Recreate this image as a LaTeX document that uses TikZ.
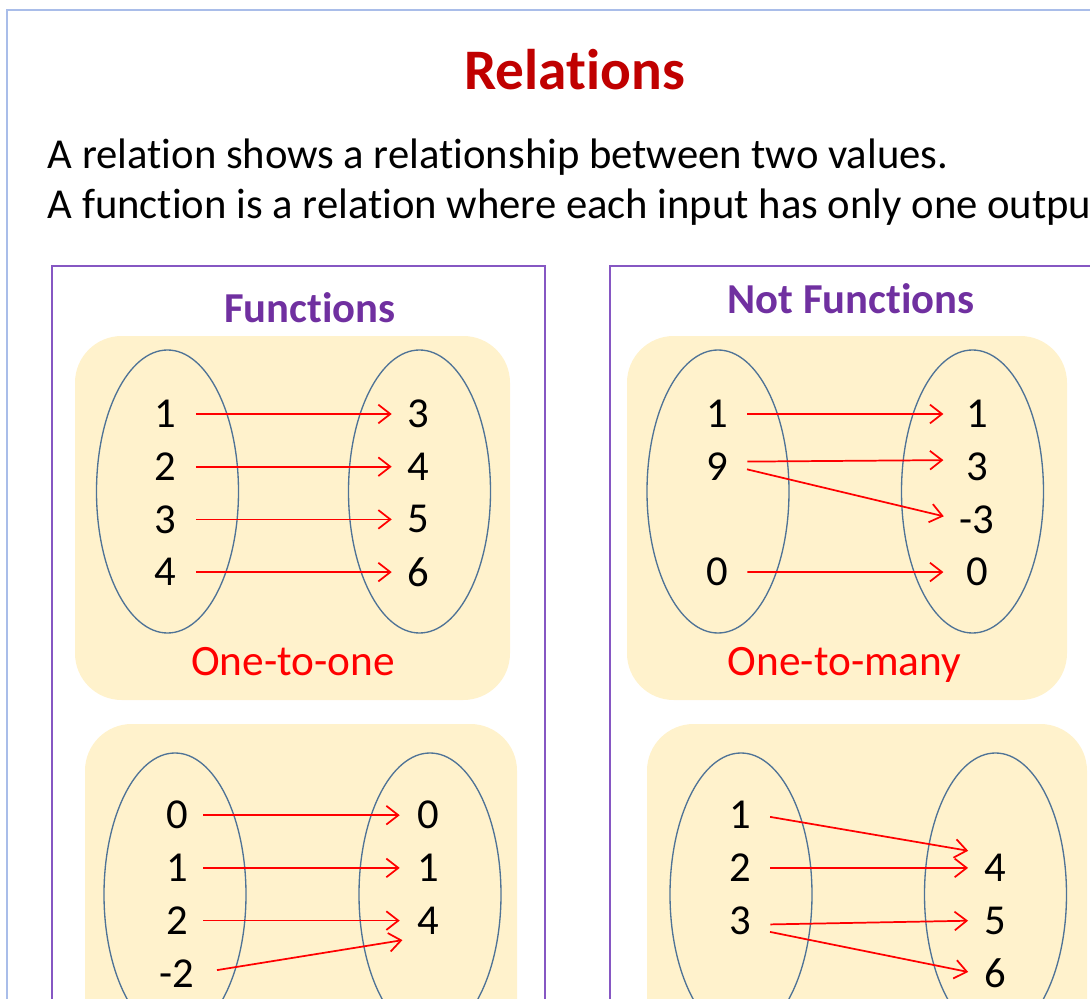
\documentclass[tikz,border=0pt]{standalone}
\usepackage{fontspec}
\setmainfont{Carlito}[Ligatures=NoCommon]
\usetikzlibrary{arrows.meta}
\definecolor{Tc}{HTML}{C00000}
\definecolor{Hc}{HTML}{7030A0}
\definecolor{Pc}{HTML}{8657C3}
\definecolor{Bc}{HTML}{A9BDE9}
\definecolor{Yc}{HTML}{FFF2CC}
\definecolor{Ec}{HTML}{4F7396}
\definecolor{Ac}{HTML}{FF0000}
\tikzset{
  num/.style={font=\fontsize{32}{32}\selectfont, inner sep=0pt, minimum width=30pt, minimum height=30pt},
  head/.style={font=\fontsize{32}{32}\selectfont\bfseries, text=Hc, anchor=base},
  kind/.style={font=\fontsize{32.5}{33}\selectfont, text=Ac, anchor=base},
  body/.style={font=\fontsize{32}{34}\selectfont, anchor=base west},
  frame/.style={draw=Pc, line width=1.5pt},
  panel/.style={fill=Yc, rounded corners=35pt},
  set/.style={draw=Ec, line width=1pt},
  map/.style={-{Straight Barb[length=9pt, width=14pt]}, draw=Ac, line width=1.3pt},
}

\begin{document}
\begin{tikzpicture}[x=0.75pt, y=-0.75pt]
  \useasboundingbox (0,0) rectangle (1090,999);
  \clip (0,0) rectangle (1090,999);
  \draw[draw=Bc, line width=1.5pt] (7,10) rectangle (1110,1020);
  % heading and the two definitions
  \node[font=\fontsize{43}{43}\selectfont\bfseries, text=Tc, anchor=base] (title) at (574.5,90) {Relations};
  \node[body] (def1) at (43,168) {A relation shows a relationship between two values.};
  \node[body] (def2) at (43,219) {A function is a relation where each input has only one output.};
  % the two columns
  \draw[frame] (52,266) rectangle (545,1020);
  \draw[frame] (610,266) rectangle (1110,1020);
  \node[head] (fun) at (310,322) {Functions};
  \node[head] (notfun) at (851,313) {Not Functions};
  \fill[panel] (75,336) rectangle (510,700);
  \fill[panel] (627,336) rectangle (1067,700);
  \fill[panel] (85,724) rectangle (517,1060);
  \fill[panel] (647,724) rectangle (1087,1060);
  \foreach \cx/\cy in {167.5/491.5, 419.5/491.5, 718/491.5, 972.5/491.5, 175/894.5, 430/894.5, 741/894.5, 995.5/894.5}
    \draw[set] (\cx,\cy) ellipse [x radius=71, y radius=141.5];
  % one-to-one
  \foreach \v [count=\i] in {1,2,3,4} \node[num] (a\i) at (165,361.3+52.7*\i) {\v};
  \foreach \v [count=\i] in {3,4,5,6} \node[num] (b\i) at (418,361.3+52.7*\i) {\v};
  \foreach \i in {1,...,4} \draw[map, shorten <=8pt, shorten >=4.5pt] (a\i) -- (b\i);
  \node[kind] (oto) at (293,675) {One-to-one};
  % one-to-many
  \node[num] (c1) at (717,414) {1};
  \node[num] (c2) at (717,467) {9};
  \node[num] (c3) at (717,572) {0};
  \foreach \v [count=\i] in {1,3,-3,0} \node[num] (d\i) at (977,361.3+52.7*\i) {\v};
  \draw[map, shorten <=7.5pt, shorten >=10pt] (c1) -- (d1);
  \draw[map, shorten <=7.5pt, shorten >=10pt] ([yshift=4pt]c2.east) -- ([yshift=5pt]d2.west);
  \draw[map, shorten <=7.5pt, shorten >=10pt] (c2.east) -- (d3.west);
  \draw[map, shorten <=7.5pt, shorten >=10pt] (c3) -- (d4);
  \node[kind] (otm) at (844.5,675) {One-to-many};
  % many-to-one
  \foreach \v [count=\i] in {0,1,2,-2} \node[num] (e\i) at (177,762.5+52.7*\i) {\v};
  \foreach \v [count=\i] in {0,1,4} \node[num] (f\i) at (428,762.5+52.7*\i) {\v};
  \foreach \i in {1,2,3} \draw[map, shorten <=4.5pt, shorten >=6pt] (e\i) -- (f\i);
  \draw[map, shorten <=15pt, shorten >=4pt] (e4.east) -- ([yshift=-14pt]f3.west);
  % many-to-many
  \foreach \v [count=\i] in {1,2,3} \node[num] (g\i) at (740,762.5+52.7*\i) {\v};
  \foreach \v [count=\i] in {4,5,6} \node[num] (h\i) at (995,815.2+52.7*\i) {\v};
  \draw[map, shorten <=7.5pt, shorten >=5pt] (g1.east) -- ([yshift=12pt]h1.west);
  \draw[map, shorten <=7.5pt, shorten >=5pt] (g2) -- (h1);
  \draw[map, shorten <=7.5pt, shorten >=5pt] ([yshift=-3pt]g3.east) -- (h2.west);
  \draw[map, shorten <=7.5pt, shorten >=5pt] ([yshift=-7pt]g3.east) -- (h3.west);
\end{tikzpicture}
\end{document}
